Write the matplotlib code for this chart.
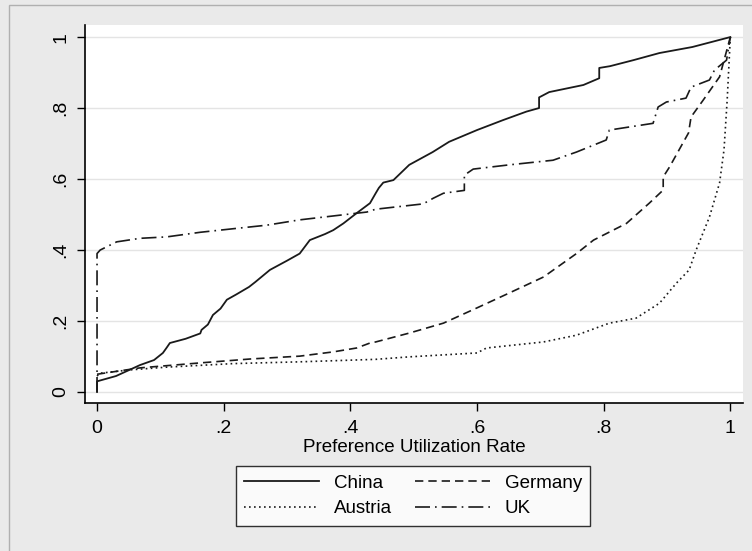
import matplotlib
matplotlib.use("Agg")
import matplotlib.pyplot as plt
from matplotlib.patches import Rectangle

plt.rcParams['font.family'] = ['Liberation Sans', 'DejaVu Sans']

# (cumulative shares)
china_x = [0, 0.0, 0.03, 0.068, 0.09, 0.104, 0.11, 0.115, 0.14, 0.163, 0.165, 0.175, 0.183,
           0.195, 0.205, 0.22, 0.24, 0.25, 0.273, 0.3, 0.32, 0.336, 0.36, 0.373, 0.389, 0.41,
           0.431, 0.44, 0.445, 0.452, 0.468, 0.493, 0.53, 0.556, 0.6, 0.641, 0.678, 0.698,
           0.698, 0.714, 0.768, 0.793, 0.793, 0.81, 0.847, 0.888, 0.94, 1.0]
china_y = [0, 0.03, 0.045, 0.076, 0.09, 0.11, 0.125, 0.138, 0.15, 0.165, 0.175, 0.19, 0.217,
           0.235, 0.26, 0.275, 0.296, 0.31, 0.344, 0.37, 0.39, 0.428, 0.445, 0.456, 0.475, 0.504,
           0.532, 0.56, 0.575, 0.59, 0.597, 0.64, 0.676, 0.705, 0.738, 0.766, 0.79, 0.80,
           0.83, 0.845, 0.865, 0.884, 0.913, 0.918, 0.935, 0.955, 0.972, 1.0]

germany_x = [0, 0.03, 0.068, 0.163, 0.242, 0.32, 0.373, 0.41, 0.431, 0.44, 0.493, 0.547, 0.6,
             0.651, 0.705, 0.757, 0.784, 0.836, 0.872, 0.894, 0.894, 0.904, 0.934, 0.938, 0.957,
             0.983, 1.0]
germany_y = [0.05, 0.058, 0.068, 0.082, 0.093, 0.101, 0.113, 0.124, 0.138, 0.141, 0.166, 0.194,
             0.237, 0.279, 0.324, 0.39, 0.428, 0.475, 0.532, 0.569, 0.606, 0.634, 0.73, 0.775,
             0.822, 0.888, 1.0]

austria_x = [0, 0.005, 0.05, 0.11, 0.215, 0.32, 0.44, 0.493, 0.6, 0.615, 0.705, 0.757, 0.809,
             0.851, 0.888, 0.915, 0.935, 0.946, 0.967, 0.983, 0.99, 0.995, 1.0]
austria_y = [0.045, 0.053, 0.062, 0.07, 0.08, 0.085, 0.092, 0.099, 0.11, 0.124, 0.141, 0.16,
             0.194, 0.208, 0.25, 0.307, 0.344, 0.4, 0.493, 0.589, 0.682, 0.822, 1.0]

uk_x = [0, 0, 0.005, 0.031, 0.068, 0.11, 0.163, 0.215, 0.268, 0.32, 0.373, 0.426, 0.44, 0.515,
        0.531, 0.547, 0.58, 0.58, 0.594, 0.651, 0.72, 0.757, 0.804, 0.809, 0.878, 0.886, 0.899,
        0.93, 0.938, 0.967, 0.975, 0.994, 1.0]
uk_y = [0, 0.39, 0.4, 0.423, 0.433, 0.437, 0.45, 0.46, 0.47, 0.485, 0.496, 0.507, 0.515, 0.53,
        0.546, 0.56, 0.568, 0.611, 0.628, 0.64, 0.653, 0.676, 0.71, 0.738, 0.757, 0.803, 0.817,
        0.828, 0.859, 0.879, 0.907, 0.935, 1.0]

ticks = [0, 0.2, 0.4, 0.6, 0.8, 1]
tick_labels = ['0', '.2', '.4', '.6', '.8', '1']

bg = '#eaeaea'
fig = plt.figure(figsize=(7.52, 5.51), dpi=100, facecolor=bg)
fig.patches.append(Rectangle((9 / 752, -0.1), 1.2, (551 - 5) / 551 + 0.1, transform=fig.transFigure,
                             facecolor='none', edgecolor='#b0b0b0', lw=1.0))
ax = fig.add_axes([85 / 752, (551 - 403) / 551, 658 / 752, 378 / 551])
ax.set_facecolor('white')

lc = '#1a1a1a'
ax.plot(china_x, china_y, color=lc, lw=1.3, label='China')
ax.plot(austria_x, austria_y, color=lc, lw=1.2, linestyle=(0, (1, 2)), label='Austria')
ax.plot(germany_x, germany_y, color=lc, lw=1.2, linestyle=(0, (5, 3)), label='Germany')
ax.plot(uk_x, uk_y, color=lc, lw=1.2, linestyle=(0, (9, 3, 1, 3)), label='UK')

ax.set_xlim(-0.019, 1.02)
ax.set_ylim(-0.031, 1.034)
ax.set_xticks(ticks)
ax.set_xticklabels(tick_labels)
ax.set_yticks(ticks)
ax.set_yticklabels(tick_labels, rotation=90, va='center')
ax.tick_params(direction='out', length=6, width=1, labelsize=14, colors='black')
ax.tick_params(axis='x', pad=6)
ax.tick_params(axis='y', pad=5)
ax.grid(axis='y', color='#e4e4e4', lw=1)
ax.set_axisbelow(True)
for s in ['top', 'right']:
    ax.spines[s].set_visible(False)
for s in ['left', 'bottom']:
    ax.spines[s].set_linewidth(1.2)

ax.set_xlabel('Preference Utilization Rate', fontsize=13.5, labelpad=2)

leg = fig.legend(loc='center', bbox_to_anchor=(413 / 752, (551 - 496) / 551), ncol=2, fontsize=13.5,
                 frameon=True, fancybox=False, edgecolor='black', handlelength=4.0,
                 columnspacing=1.2, borderpad=0.45, labelspacing=0.45, handletextpad=0.8)
leg.get_frame().set_linewidth(1.0)

fig.savefig('out.png', dpi=100, facecolor=bg)
